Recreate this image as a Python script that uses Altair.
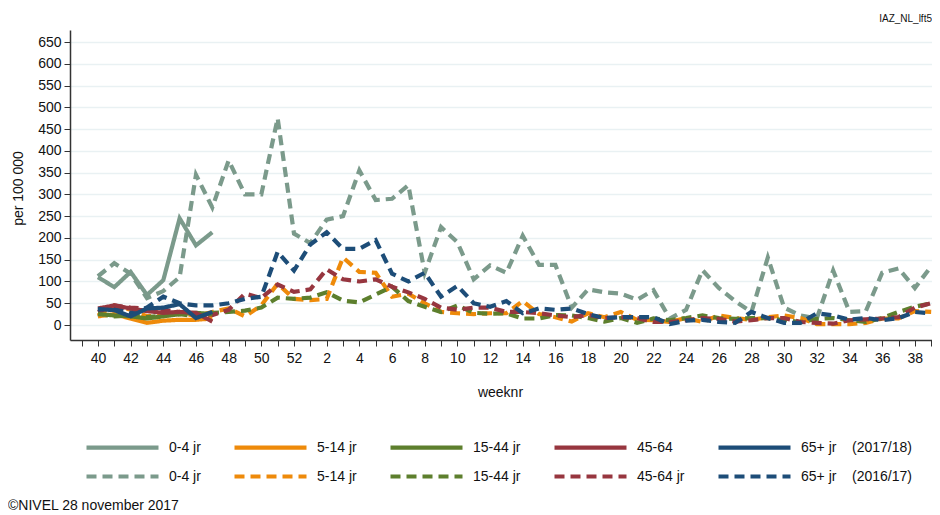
import altair as alt
import pandas as pd

# week labels, season order (index 0 = week 40)
week_labels = [40, 41, 42, 43, 44, 45, 46, 47, 48, 49, 50, 51, 52,
               1, 2, 3, 4, 5, 6, 7, 8, 9, 10, 11, 12, 13, 14, 15, 16, 17, 18, 19, 20,
               21, 22, 23, 24, 25, 26, 27, 28, 29, 30, 31, 32, 33, 34, 35, 36, 37, 38, 39]

# 2017/18 (solid), weeks 40-47
s_04 = [110, 87, 122, 69, 103, 245, 183, 213]
s_514 = [20, 25, 15, 5, 10, 12, 12, 15]
s_1544 = [25, 22, 20, 15, 20, 25, 28, 25]
s_4564 = [38, 45, 38, 32, 28, 30, 28, 8]
s_65 = [37, 34, 20, 38, 40, 48, 16, 30]

# 2016/17 (dashed), weeks 40-39
d_04 = [112, 142, 118, 62, 78, 110, 345, 270, 378, 300, 300, 475, 210,
        188, 242, 250, 355, 287, 290, 321, 120, 225, 190, 105, 137, 120, 205, 138, 138, 40,
        82, 75, 72, 58, 80, 15, 35, 126, 85, 55, 30, 155, 40, 22, 15, 125, 30, 32, 120, 130, 85, 135]
d_514 = [22, 45, 35, 20, 25, 30, 20, 30, 38, 20, 45, 95, 60,
         57, 60, 155, 122, 120, 65, 72, 50, 30, 27, 25, 27, 27, 55, 25, 18, 8,
         27, 18, 30, 12, 11, 7, 16, 7, 22, 16, 12, 18, 22, 16, 2, 2, 2, 5, 15, 15, 32, 30]
d_1544 = [25, 20, 22, 18, 22, 25, 20, 28, 30, 33, 40, 63, 60,
          63, 75, 56, 52, 70, 88, 55, 42, 30, 45, 28, 26, 27, 15, 15, 23, 22,
          16, 8, 16, 5, 15, 11, 16, 22, 16, 14, 16, 16, 11, 7, 14, 16, 11, 7, 16, 30, 42, 50]
d_4564 = [30, 45, 40, 38, 35, 30, 25, 23, 35, 72, 62, 93, 76,
          82, 128, 105, 100, 105, 88, 75, 60, 40, 35, 40, 40, 30, 30, 27, 22, 18,
          23, 16, 18, 16, 7, 7, 11, 16, 14, 8, 11, 16, 16, 7, 5, 3, 11, 13, 15, 18, 40, 50]
d_65 = [35, 40, 28, 40, 65, 50, 45, 45, 50, 60, 65, 168, 125,
        185, 213, 175, 175, 195, 118, 100, 120, 65, 90, 50, 42, 55, 27, 38, 35, 38,
        25, 16, 18, 18, 18, 2, 10, 12, 7, 5, 30, 16, 5, 5, 27, 22, 12, 16, 11, 16, 30, 27]

keys = ["s04", "s514", "s1544", "s4564", "s65", "d04", "d514", "d1544", "d4564", "d65"]
labels = ["0-4 jr", "5-14 jr", "15-44 jr", "45-64", "65+ jr\u00a0\u00a0\u00a0\u00a0(2017/18)",
          "0-4 jr", "5-14 jr", "15-44 jr", "45-64 jr", "65+ jr\u00a0\u00a0\u00a0\u00a0(2016/17)"]
colors = ["#7b9a8b", "#ee8a0a", "#5d7f2d", "#97363f", "#1d4d78"] * 2
dashes = [[1, 0]] * 5 + [[10, 6]] * 5
widths = [4.2] * 5 + [2.4] * 5

series = [s_04, s_514, s_1544, s_4564, s_65, d_04, d_514, d_1544, d_4564, d_65]
rows = []
for k, vals in zip(keys, series):
    for i, v in enumerate(vals):
        rows.append({"idx": i, "rate": v, "key": k})
df = pd.DataFrame(rows)

font = "Liberation Sans, Arial, sans-serif"

week_expr = "datum.value < 0 ? '' : (datum.value % 2 == 0 ? (datum.value <= 12 ? datum.value + 40 : datum.value - 12) + '' : '')"
key_list = "[" + ",".join("'%s'" % k for k in keys) + "]"
lab_list = "[" + ",".join("'%s'" % l for l in labels) + "]"
legend_expr = lab_list + "[indexof(" + key_list + ", datum.value)]"

x = alt.X("idx:Q",
          scale=alt.Scale(domain=[-1.71, 51.05], nice=False, zero=False),
          axis=alt.Axis(values=list(range(-1, 52)), labelExpr=week_expr, title="weeknr",
                        tickSize=6, labelPadding=5, labelFontSize=14, labelColor="#111",
                        tickColor="#333", domainColor="#333", domainWidth=1.5,
                        labelFlush=False, labelOverlap=False, grid=False,
                        titleFontSize=14, titleFontWeight="normal", titleColor="#111",
                        titleX=430, titleY=52, titleBaseline="middle", titleAlign="center"))
y = alt.Y("rate:Q",
          scale=alt.Scale(domain=[-34.4, 677.6], nice=False, zero=False),
          axis=alt.Axis(values=list(range(0, 651, 50)), title="per 100 000",
                        tickSize=6, labelPadding=3, labelFontSize=14, labelColor="#111",
                        tickColor="#333", domainColor="#333", domainWidth=1.5,
                        grid=True, gridColor="#e9f1f3", gridWidth=1.5,
                        titleFontSize=14, titleFontWeight="normal", titleColor="#111",
                        titleAngle=-90, titleX=-52, titleY=158, titleAlign="center",
                        titleBaseline="middle"))

legend = alt.Legend(orient="none", legendX=14, legendY=403, columns=5, direction="horizontal",
                    title=None, symbolType="M-1,0H5", symbolSize=576, labelFontSize=14,
                    labelColor="#111", labelOffset=56, columnPadding=25, rowPadding=6,
                    labelExpr=legend_expr, labelLimit=300)

color = alt.Color("key:N", scale=alt.Scale(domain=keys, range=colors), legend=legend)
dash = alt.StrokeDash("key:N", scale=alt.Scale(domain=keys, range=dashes), legend=legend)
sw = alt.StrokeWidth("key:N", scale=alt.Scale(domain=keys, range=widths), legend=legend)

base = alt.Chart(df)
dashed = base.transform_filter("indexof(datum.key, 'd') == 0").mark_line(interpolate="linear").encode(
    x=x, y=y, color=color, strokeDash=dash, strokeWidth=sw, order="idx:Q")
solid = base.transform_filter("indexof(datum.key, 's') == 0").mark_line(interpolate="linear").encode(
    x=x, y=y, color=color, strokeDash=dash, strokeWidth=sw, order="idx:Q")

footer = alt.Chart(pd.DataFrame({"t": ["\u00a9NIVEL 28 november 2017"]})).mark_text(
    align="left", baseline="middle", fontSize=14, color="#111").encode(
    text="t:N", x=alt.value(-62), y=alt.value(476))
tag = alt.Chart(pd.DataFrame({"t": ["IAZ_NL_lft5"]})).mark_text(
    align="right", baseline="middle", fontSize=10, color="#111").encode(
    text="t:N", x=alt.value(862), y=alt.value(-11))

chart = alt.layer(dashed, solid, footer, tag).properties(
    width=862, height=310,
    autosize=alt.AutoSizeParams(type="none"),
    padding={"left": 62, "top": 22, "right": 0, "bottom": 177},
).configure(font=font).configure_view(stroke=None)

chart.save("out.html", embed_options={"renderer": "svg", "actions": False})
